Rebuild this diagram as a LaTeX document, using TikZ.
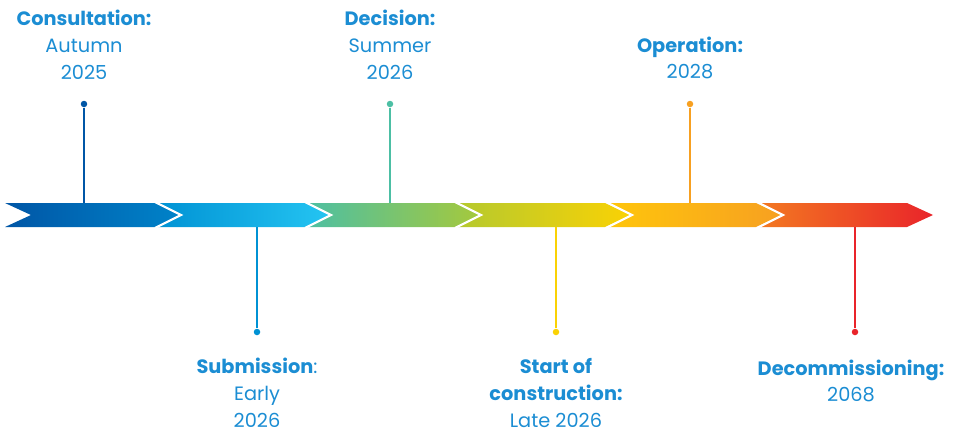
\documentclass[tikz,border=0pt]{standalone}
\usepackage{fontspec}
\setmainfont{Poppins}
\usetikzlibrary{calc}

\definecolor{txtblue}{HTML}{1B8DD3}
\definecolor{sega}{HTML}{0056A6}\definecolor{segb}{HTML}{0083C9}
\definecolor{segc}{HTML}{0092D4}\definecolor{segd}{HTML}{25C5F2}
\definecolor{sege}{HTML}{4CBFA4}\definecolor{segf}{HTML}{A6C93B}
\definecolor{segg}{HTML}{B4C92F}\definecolor{segh}{HTML}{FAD204}
\definecolor{segi}{HTML}{FFC60B}\definecolor{segj}{HTML}{F7A021}
\definecolor{segk}{HTML}{F37A21}\definecolor{segl}{HTML}{E9242A}

\tikzset{
  lbl/.style={text=txtblue, align=center, inner sep=0pt,
    font=\fontsize{11}{15.3}\selectfont},
  dot/.style={circle, fill=#1, inner sep=0pt, minimum size=0.13cm},
  stem/.style={#1, line width=0.8pt}
}

\begin{document}
\begin{tikzpicture}[x=0.02cm,y=-0.02cm]
  \useasboundingbox (0,0) rectangle (963,433);
  % timeline band
  \foreach \x/\ca/\cb in {5/sega/segb,155/segc/segd,305/sege/segf,
      455/segg/segh,606/segi/segj,757/segk/segl}
    \shade[left color=\ca,right color=\cb] (\x,203) -- ++(150,0) -- ++(26,12)
      -- ++(-26,12) -- ++(-150,0) -- ++(26,-12) -- cycle;
  \foreach \x in {155,305,455,606,757}
    \draw[white,line width=1.2pt] (\x,202) -- ++(26,13) -- ++(-26,13);

  % milestones above
  \coordinate (c1) at (84,203);
  \node[dot=sega] (d1) at (84,104) {};
  \draw[stem=sega] (d1) -- (c1);
  \node[lbl] (consult) at (84,45) {\textbf{Consultation:}\\Autumn\\2025};

  \coordinate (c3) at (390,203);
  \node[dot=sege] (d3) at (390,104) {};
  \draw[stem=sege] (d3) -- (c3);
  \node[lbl] (decision) at (390,45) {\textbf{Decision:}\\Summer\\2026};

  \coordinate (c5) at (690,203);
  \node[dot=segj] (d5) at (690,104) {};
  \draw[stem=segj] (d5) -- (c5);
  \node[lbl] (operation) at (690,58) {\textbf{Operation:}\\2028};

  % milestones below
  \coordinate (c2) at (257,227);
  \node[dot=segc] (d2) at (257,332) {};
  \draw[stem=segc] (c2) -- (d2);
  \node[lbl] (submission) at (257,393) {\textbf{Submission}:\\Early\\2026};

  \coordinate (c4) at (556,227);
  \node[dot=segh] (d4) at (556,332) {};
  \draw[stem=segh] (c4) -- (d4);
  \node[lbl] (construction) at (556,393) {\textbf{Start of}\\\textbf{construction:}\\Late 2026};

  \coordinate (c6) at (855,227);
  \node[dot=segl] (d6) at (855,332) {};
  \draw[stem=segl] (c6) -- (d6);
  \node[lbl] (decomm) at (851,381) {\textbf{Decommissioning:}\\2068};
\end{tikzpicture}
\end{document}
